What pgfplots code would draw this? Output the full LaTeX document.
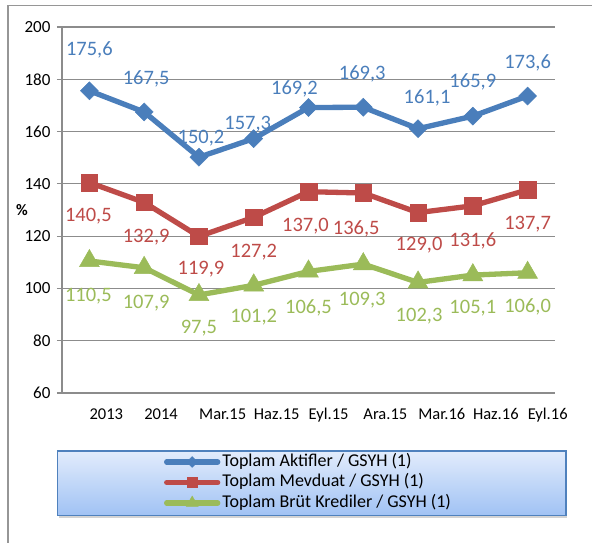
\documentclass[border=0pt]{standalone}
\usepackage{pgfplots}
\pgfplotsset{compat=1.18}
\usepackage{pgfplotstable}
\usepackage{fontspec}
\setmainfont{Carlito}
\usetikzlibrary{shadows}

\definecolor{cblue}{RGB}{74,126,187}
\definecolor{cred}{RGB}{190,75,72}
\definecolor{cgreen}{RGB}{155,187,89}
\definecolor{gridc}{RGB}{140,140,140}
\definecolor{framec}{RGB}{150,150,150}
\definecolor{legtop}{RGB}{226,236,252}
\definecolor{legbot}{RGB}{160,194,244}
\definecolor{legborder}{RGB}{79,129,189}

\pgfdeclareplotmark{sqdiamond}{%
  \pgfpathmoveto{\pgfqpoint{0pt}{\pgfplotmarksize}}%
  \pgfpathlineto{\pgfqpoint{\pgfplotmarksize}{0pt}}%
  \pgfpathlineto{\pgfqpoint{0pt}{-\pgfplotmarksize}}%
  \pgfpathlineto{\pgfqpoint{-\pgfplotmarksize}{0pt}}%
  \pgfpathclose\pgfusepathqfillstroke}

\pgfplotstableread{
x y dx dy
0 175.6 0 40.7
1 167.5 2 33
2 150.2 2 19
3 157.3 -6 14
4 169.2 -14 19
5 169.3 -1 33
6 161.1 9 31
7 165.9 0 34
8 173.6 0 33
}\tblblue

\pgfplotstableread{
x y dx dy
0 140.5 -1 -34
1 132.9 2 -35
2 119.9 2 -33
3 127.2 0 -35
4 137.0 -3 -34
5 136.5 -7 -36
6 129.0 1 -33
7 131.6 0 -35
8 137.7 0 -34
}\tblred

\pgfplotstableread{
x y dx dy
0 110.5 -1 -35
1 107.9 2 -35
2 97.5 0 -33
3 101.2 0 -32
4 106.5 0 -36
5 109.3 -1 -36
6 102.3 1 -34
7 105.1 0 -33
8 106.0 0 -34
}\tblgreen

\begin{document}
\begin{tikzpicture}
\useasboundingbox (0pt,0pt) rectangle (592pt,543pt);
\draw[framec, line width=1.5pt] (8pt,0pt) -- (8pt,537.5pt) -- (592pt,537.5pt);
\path[draw=legborder, line width=1.2pt, top color=legtop, bottom color=legbot,
  drop shadow={shadow xshift=1pt, shadow yshift=-3pt, opacity=0.35}]
  (57.5pt,27.5pt) rectangle (566pt,92pt);
\begin{axis}[
  at={(62pt,150pt)}, anchor=south west,
  scale only axis, width=493pt, height=366pt,
  xmin=-0.5, xmax=8.5, ymin=60, ymax=200,
  axis x line*=bottom, axis y line*=left,
  axis line style={gridc, line width=1.2pt},
  ymajorgrids, grid style={gridc, line width=1.2pt},
  ytick={60,80,...,200},
  xtick={0,...,8},
  xticklabels={2013,2014,Mar.15,Haz.15,Eyl.15,Ara.15,Mar.16,Haz.16,Eyl.16},
  tick align=outside, major tick length=5pt,
  ytick style={gridc, line width=1.2pt},
  xtick style={draw=none},
  yticklabel style={font=\fontsize{17}{20}\selectfont, anchor=east, xshift=-3pt},
  xticklabel style={font=\fontsize{16.5}{20}\selectfont, anchor=base west, inner sep=0pt, yshift=-22pt},
  /pgf/number format/assume math mode=true,
  ylabel={\textbf{\%}},
  ylabel style={rotate=-90, at={(axis description cs:-0.081,0.5)}, anchor=center, font=\fontsize{16}{18}\selectfont},
  clip=false,
  every axis plot/.append style={line width=5.3pt},
  nodes near coords={\pgfmathprintnumber[fixed,fixed zerofill,precision=1,use comma]{\pgfplotspointmeta}},
  nodes near coords style={font=\fontsize{20.5}{24}\selectfont, anchor=center, xshift=\dx pt, yshift=\dy pt},
  visualization depends on={\thisrow{dx}\as\dx},
  visualization depends on={\thisrow{dy}\as\dy},
  legend style={at={(0.500,-0.2445)}, anchor=center, draw=none, fill=none,
    font=\fontsize{18}{20}\selectfont, row sep=0pt,
    nodes={inner ysep=1.5pt, inner xsep=2pt, text height=13pt, text depth=4.5pt}},
  legend cell align=left,
  legend image code/.code={%
    \draw[#1, mark=none, line cap=round] (2pt,0pt) -- (53pt,0pt);
    \draw[#1, line width=0.5pt, every mark/.append style={scale=0.6}, mark repeat=2, mark phase=2] plot coordinates {(0pt,0pt) (27.5pt,0pt) (55pt,0pt)};},
]
\addplot[cblue, mark=sqdiamond, mark size=9pt, mark options={solid, line width=0.5pt},
  nodes near coords style={text=cblue}] table[x=x,y=y] {\tblblue};
\addlegendentry{Toplam Aktifler / GSYH (1)}
\addplot[cred, mark=square*, mark size=8.3pt, mark options={solid, line width=0.5pt},
  nodes near coords style={text=cred}] table[x=x,y=y] {\tblred};
\addlegendentry{Toplam Mevduat / GSYH (1)}
\addplot[cgreen, mark=triangle*, mark size=11.5pt, mark options={solid, line width=0.5pt},
  nodes near coords style={text=cgreen}] table[x=x,y=y] {\tblgreen};
\addlegendentry{Toplam Brüt Krediler / GSYH (1)}
\end{axis}
\end{tikzpicture}
\end{document}
